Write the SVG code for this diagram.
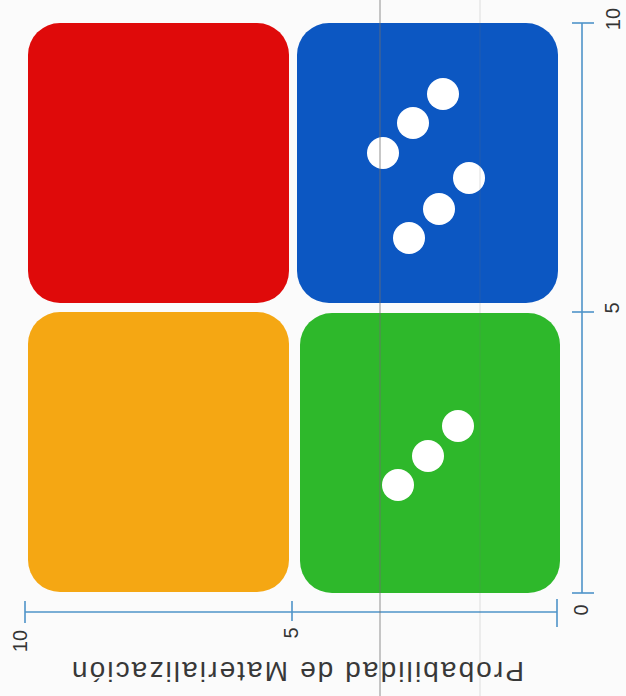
<svg xmlns="http://www.w3.org/2000/svg" width="626" height="696" viewBox="0 0 626 696">
  <style>
    .box { stroke: none; }
    .dot { fill: #ffffff; }
    .axis { stroke: #4f94c9; stroke-width: 1.6; fill: none; }
    .num { font-family: "Liberation Sans", Arial, sans-serif; font-size: 20px; fill: #333333; text-anchor: middle; }
    .title { font-family: "Liberation Sans", Arial, sans-serif; font-size: 28px; fill: #383838; text-anchor: middle; }
    .scan { stroke: #6f6f6f; stroke-width: 1.4; opacity: 0.55; }
  </style>
  <rect x="0" y="0" width="626" height="696" fill="#fbfbfb"/>

  <g id="q-red">
    <rect class="box" x="28" y="23" width="261" height="280" rx="32" fill="#df0a0a"/>
  </g>
  <g id="q-orange">
    <rect class="box" x="28" y="312" width="261" height="280" rx="32" fill="#f5a713"/>
  </g>
  <g id="q-blue">
    <rect class="box" x="297" y="23" width="261" height="280" rx="32" fill="#0c57c2"/>
    <circle class="dot" cx="443" cy="94" r="16"/>
    <circle class="dot" cx="413" cy="123" r="16"/>
    <circle class="dot" cx="383" cy="153" r="16"/>
    <circle class="dot" cx="469" cy="178" r="16"/>
    <circle class="dot" cx="439" cy="209" r="16"/>
    <circle class="dot" cx="409" cy="238" r="16"/>
  </g>
  <g id="q-green">
    <rect class="box" x="300" y="313" width="260" height="280" rx="32" fill="#2eb82b"/>
    <circle class="dot" cx="458" cy="426" r="16"/>
    <circle class="dot" cx="428" cy="456" r="16"/>
    <circle class="dot" cx="398" cy="485" r="16"/>
  </g>

  <g id="axes">
    <line class="axis" x1="582" y1="23" x2="582" y2="593"/>
    <line class="axis" x1="572" y1="23" x2="594" y2="23"/>
    <line class="axis" x1="572" y1="312" x2="594" y2="312"/>
    <line class="axis" x1="572" y1="593" x2="594" y2="593"/>
    <line class="axis" x1="25" y1="612" x2="557" y2="612"/>
    <line class="axis" x1="25" y1="601" x2="25" y2="623"/>
    <line class="axis" x1="292" y1="601" x2="292" y2="621"/>
    <line class="axis" x1="557" y1="599" x2="557" y2="627"/>
  </g>

  <g id="labels">
    <text class="num" x="620" y="19" transform="rotate(-90 620 19)">10</text>
    <text class="num" x="619" y="308" transform="rotate(-90 619 308)">5</text>
    <text class="num" x="588" y="610" transform="rotate(-90 588 610)">0</text>
    <text class="num" x="298" y="633" transform="rotate(-90 298 633)">5</text>
    <text class="num" x="27" y="641" transform="rotate(-90 27 641)">10</text>
    <text class="title" x="298" y="662" transform="rotate(180 298 662)" textLength="452" lengthAdjust="spacing">Probabilidad de Materialización</text>
  </g>

  <g id="scan-lines">
    <line class="scan" x1="380" y1="0" x2="380" y2="696"/>
    <line class="scan" x1="480" y1="0" x2="480" y2="696" style="opacity:0.15"/>
  </g>
</svg>
